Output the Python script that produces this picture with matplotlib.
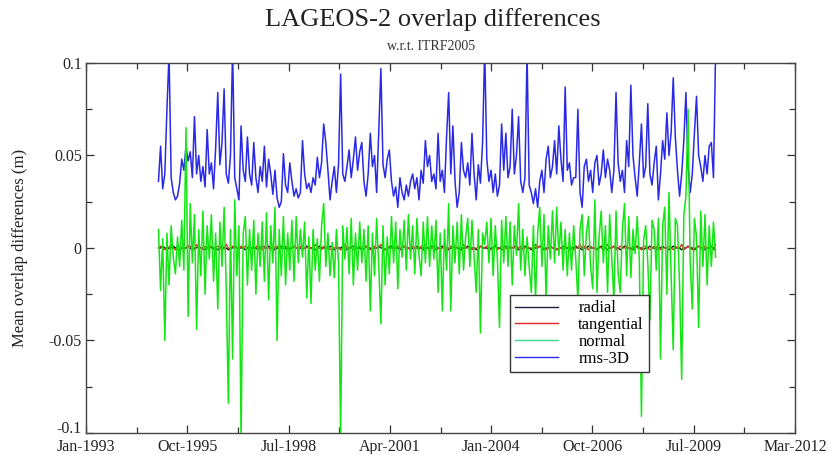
import numpy as np
import pandas as pd
import matplotlib
matplotlib.use("Agg")
import matplotlib.transforms as mtransforms
from matplotlib import pyplot as plt

# weekly-ish sampled overlap differences, values in mm
start_date = "1994-12-20"
step = "21D"

rms_3d = [
    36, 55, 32, 40, 75, 105, 38, 30, 26, 28,
    35, 48, 42, 55, 47, 52, 38, 71, 40, 50,
    36, 44, 33, 64, 40, 46, 32, 54, 84, 45,
    57, 86, 40, 35, 50, 108, 38, 32, 26, 66,
    42, 36, 60, 40, 34, 57, 38, 30, 44, 36,
    55, 33, 48, 40, 29, 42, 27, 22, 25, 51,
    34, 30, 46, 36, 28, 32, 27, 30, 58, 40,
    32, 35, 30, 38, 34, 49, 38, 46, 67, 57,
    42, 26, 36, 44, 30, 45, 94, 40, 36, 44,
    53, 38, 48, 60, 42, 52, 57, 36, 28, 40,
    62, 44, 50, 30, 64, 97, 45, 38, 48, 53,
    36, 28, 33, 22, 38, 30, 26, 34, 28, 36,
    40, 32, 38, 26, 42, 35, 58, 44, 50, 36,
    40, 32, 62, 36, 42, 30, 60, 84, 40, 66,
    36, 22, 30, 57, 42, 38, 46, 34, 62, 40,
    26, 45, 35, 57, 108, 48, 36, 42, 30, 40,
    28, 34, 67, 42, 62, 38, 44, 75, 40, 50,
    71, 36, 30, 38, 106, 34, 30, 24, 32, 22,
    36, 42, 30, 48, 55, 38, 44, 58, 40, 66,
    48, 36, 87, 42, 46, 34, 38, 38, 75, 30,
    22, 44, 48, 36, 42, 30, 46, 50, 34, 40,
    53, 38, 48, 42, 30, 42, 84, 46, 36, 42,
    30, 58, 44, 88, 50, 38, 28, 46, 67, 38,
    44, 78, 40, 34, 46, 55, 26, 40, 58, 48,
    73, 50, 62, 92, 60, 42, 28, 40, 58, 84,
    44, 30, 40, 62, 82, 50, 44, 36, 50, 40,
    55, 57, 38, 106,
]

normal = [
    10, -23, 5, -50, 8, -20, 12, -5, -14, 6,
    -10, 15, -12, 65, -37, 24, -8, 18, -44, 10,
    -15, 20, -25, 12, -6, 18, -18, 8, -33, 14,
    -10, 22, -22, -84, 10, -60, 26, -15, 12, -104,
    8, 17, -20, 10, -12, 15, -25, 8, -10, 14,
    -18, 19, -28, 12, -8, 22, -50, 10, -15, 17,
    -20, 8, -12, 15, -18, 17, -8, 10, -5, 14,
    -27, 6, -30, 10, -12, 5, -18, 12, 24, -10,
    8, -15, 3, -16, 10, -8, -104, 12, -6, 11,
    -14, 16, -20, 8, -12, 14, -8, 10, -18, 12,
    -34, 8, -15, 16, -10, -41, 12, -20, 6, -14,
    17, -8, 14, -22, 10, -5, 15, -12, 18, -6,
    12, -14, 16, -4, -15, 14, -8, 17, -10, 12,
    -6, 15, -24, 8, -34, 10, -12, 24, -34, 12,
    -8, 14, -14, 18, -12, 6, 16, -10, 15, -5,
    -24, 10, -46, 8, 2, 14, -8, 16, -15, 12,
    -6, -43, 15, -8, 17, -10, 14, -20, 12, -4,
    24, -12, 10, -15, 6, -10, -24, 12, -28, 8,
    22, -10, 18, -28, 12, -6, 20, -8, 22, -4,
    14, -12, 10, -15, 8, -12, 12, -6, -28, 10,
    18, -15, 8, 17, -10, -22, 26, -24, 6, 20,
    -8, 12, -24, 18, -6, -28, 20, -14, -24, 10,
    24, -15, 17, -16, 10, -3, 17, -6, -91, 4,
    12, -8, -39, 15, 10, -12, 16, -60, 12, 22,
    -25, 30, -14, -55, 16, 12, -20, -71, 18, 28,
    75, -8, -33, 16, 6, -43, 20, -10, 18, -20,
    12, -10, 14, -5,
]

tangential = [
    0, 1, 0, -1, 1, 0, 2, 0, -1, 0,
    1, 0, -1, 0, 1, 1, 0, -1, 2, 0,
    0, -1, 1, 0, 0, 1, -1, 0, 1, 0,
    -1, 0, 2, 0, -1, 1, 0, 0, -1, 1,
    0, 1, 0, -1, 0, 1, 0, 2, 0, -1,
    1, 0, 0, -1, 1, 0, 1, -1, 0, 0,
    1, 0, -1, 0, 1, 0, 0, 1, -1, 0,
    0, 1, 0, -1, 2, 0, 0, -1, 1, 0,
    1, -1, 0, 0, 1, 0, -1, 0, 2, 0,
    0, 1, -1, 0, 0, 1, 0, -1, 1, 0,
    -1, 0, 1, 0, 0, 2, 0, -1, 0, 1,
    0, -1, 0, 1, 0, 0, 1, -1, 0, 0,
    1, 0, 0, -1, 1, 0, 2, 0, -1, 0,
    0, 1, 0, -1, 0, 1, -1, 0, 1, 0,
    1, 0, -1, 0, 2, 0, 0, 1, -1, 0,
    0, -1, 1, 0, 0, 1, 0, -1, 0, 2,
    -1, 0, 1, 0, 0, -1, 1, 0, 0, 1,
    0, 1, -1, 0, 1, 0, 0, -1, 2, 0,
    1, 0, 0, -1, 0, 1, 0, 1, -1, 0,
    0, -1, 1, 0, 1, 0, -1, 0, 0, 2,
    0, 1, 0, -1, 1, 0, 0, -1, 1, 0,
    -1, 0, 2, 0, 0, 1, -1, 0, 1, 0,
    0, 1, 0, -1, 0, 2, 0, 0, -1, 1,
    1, 0, -1, 0, 1, 0, 2, -1, 0, 0,
    0, 1, 0, -1, 1, 0, 0, 2, -1, 0,
    1, 0, -1, 0, 0, 1, 0, -1, 1, 0,
    0, 1, -1, 2,
]

radial = [
    0, 0, 1, 0, -1, 0, 0, 1, 0, 0,
    -1, 0, 0, 0, 1, 0, -1, 0, 0, 1,
    0, 0, -1, 0, 1, 0, 0, 0, -1, 0,
    1, 0, 0, -1, 0, 0, 1, 0, 0, 0,
    0, -1, 0, 1, 0, 0, 0, -1, 0, 1,
    0, 0, 1, 0, 0, -1, 0, 0, 1, 0,
    0, -1, 0, 0, 1, 0, 0, 0, -1, 0,
    1, 0, 0, 0, -1, 0, 1, 0, 0, 0,
    0, 1, 0, -1, 0, 0, 0, 1, 0, -1,
    0, 0, 1, 0, 0, 0, -1, 0, 1, 0,
    0, -1, 0, 0, 1, 0, 0, -1, 0, 0,
    1, 0, 0, 0, -1, 0, 1, 0, 0, -1,
    0, 0, 1, 0, 0, -1, 0, 0, 0, 1,
    0, -1, 0, 0, 1, 0, 0, -1, 0, 0,
    1, 0, 0, -1, 0, 0, 1, 0, 0, 0,
    -1, 0, 1, 0, 0, 0, -1, 0, 0, 1,
    0, 0, -1, 0, 1, 0, 0, 0, 1, 0,
    -1, 0, 0, 1, 0, 0, -1, 0, 0, 0,
    1, 0, -1, 0, 0, 1, 0, 0, -1, 0,
    0, 1, 0, 0, -1, 0, 0, 1, 0, 0,
    -1, 0, 0, 1, 0, 0, 0, -1, 0, 1,
    0, 0, -1, 0, 0, 1, 0, 0, -1, 0,
    1, 0, 0, 0, -1, 0, 1, 0, 0, -1,
    0, 0, 1, 0, 0, -1, 0, 0, 1, 0,
    0, -1, 0, 1, 0, 0, 0, -1, 0, 0,
    1, 0, 0, -1, 0, 1, 0, 0, -1, 0,
    0, 1, 0, -1,
]

tick_labels = ["Jan-1993", "Oct-1995", "Jul-1998", "Apr-2001",
               "Jan-2004", "Oct-2006", "Jul-2009", "Mar-2012"]
ytick_vals = [-0.1, -0.05, 0, 0.05, 0.1]
ytick_labels = ["-0.1", "-0.05", "0", "0.05", "0.1"]

n = len(rms_3d)
assert len(normal) == n and len(tangential) == n and len(radial) == n
dates = pd.date_range(start_date, periods=n, freq=step)
mm = lambda v: np.asarray(v, dtype=float) / 1000.0

plt.rcParams['font.family'] = ['Liberation Serif', 'DejaVu Serif']

fig = plt.figure(figsize=(8.32, 4.54), dpi=100)
ax = fig.add_axes([0.1034, 0.0463, 0.8521, 0.8150])

blue = '#2a2ae6'
green = '#14e614'
red = '#e02424'

ax.plot(dates, mm(rms_3d), color=blue, lw=1.1, zorder=2)
ax.plot(dates, mm(radial), color='black', lw=0.9, zorder=3)
ax.plot(dates, mm(tangential), color=red, lw=0.9, zorder=3.5)
ax.plot(dates, mm(normal), color=green, lw=1.1, zorder=4)

# legend handles in the original set order
h_rad, = ax.plot([], [], color='#202040', lw=1)
h_tan, = ax.plot([], [], color=red, lw=1)
h_nor, = ax.plot([], [], color='#40d890', lw=1)
h_rms, = ax.plot([], [], color=blue, lw=1)
leg = ax.legend([h_rad, h_tan, h_nor, h_rms],
                ['radial', 'tangential', 'normal', 'rms-3D'],
                loc='lower left', bbox_to_anchor=(0.598, 0.165),
                fontsize=12, frameon=True, fancybox=False, framealpha=1,
                edgecolor='#333333', handlelength=2.6, handletextpad=1.2,
                borderpad=0.3, labelspacing=0.05, borderaxespad=0)
leg.get_frame().set_linewidth(1.0)
leg.set_zorder(10)

# xmgrace style date axis: ticks every 1004 days starting Jan 1993
t0 = pd.Timestamp("1993-01-01")
major = [t0 + pd.Timedelta(days=1004 * k) for k in range(len(tick_labels))]
minor = [t0 + pd.Timedelta(days=502 + 1004 * k) for k in range(len(tick_labels) - 1)]
ax.set_xlim(major[0], major[-1])
ax.set_xticks(major)
ax.set_xticklabels(tick_labels)
ax.set_xticks(minor, minor=True)

ax.set_ylim(-0.1, 0.1)
ax.set_yticks(ytick_vals)
ax.set_yticklabels(ytick_labels)
ax.set_yticks([-0.075, -0.025, 0.025, 0.075], minor=True)

ax.tick_params(which='both', direction='in', top=True, right=True,
               labelsize=11.5, colors='#333333', labelcolor='#222222')
ax.tick_params(which='major', length=6, width=0.9)
ax.tick_params(which='minor', length=4, width=0.9)
ax.tick_params(axis='x', which='major', pad=4)
ax.tick_params(axis='y', which='major', pad=3)
for sp in ax.spines.values():
    sp.set_linewidth(1.0)
    sp.set_color('#444444')

# lift the bottom y label a little so it clears "Jan-1993"
lbl = ax.yaxis.get_major_ticks()[0].label1
lbl.set_transform(lbl.get_transform() +
                  mtransforms.ScaledTranslation(0, 4 / 72, fig.dpi_scale_trans))

ax.set_ylabel('Mean overlap differences (m)', fontsize=12, color='#222222')
ax.yaxis.set_label_coords(-0.082, 0.5)
fig.text(0.52, 0.958, 'LAGEOS-2 overlap differences', ha='center', va='center',
         fontsize=19, color='#222222')
fig.text(0.518, 0.898, 'w.r.t. ITRF2005', ha='center', va='center',
         fontsize=10, color='#333333')

fig.savefig('out.png', dpi=100)
